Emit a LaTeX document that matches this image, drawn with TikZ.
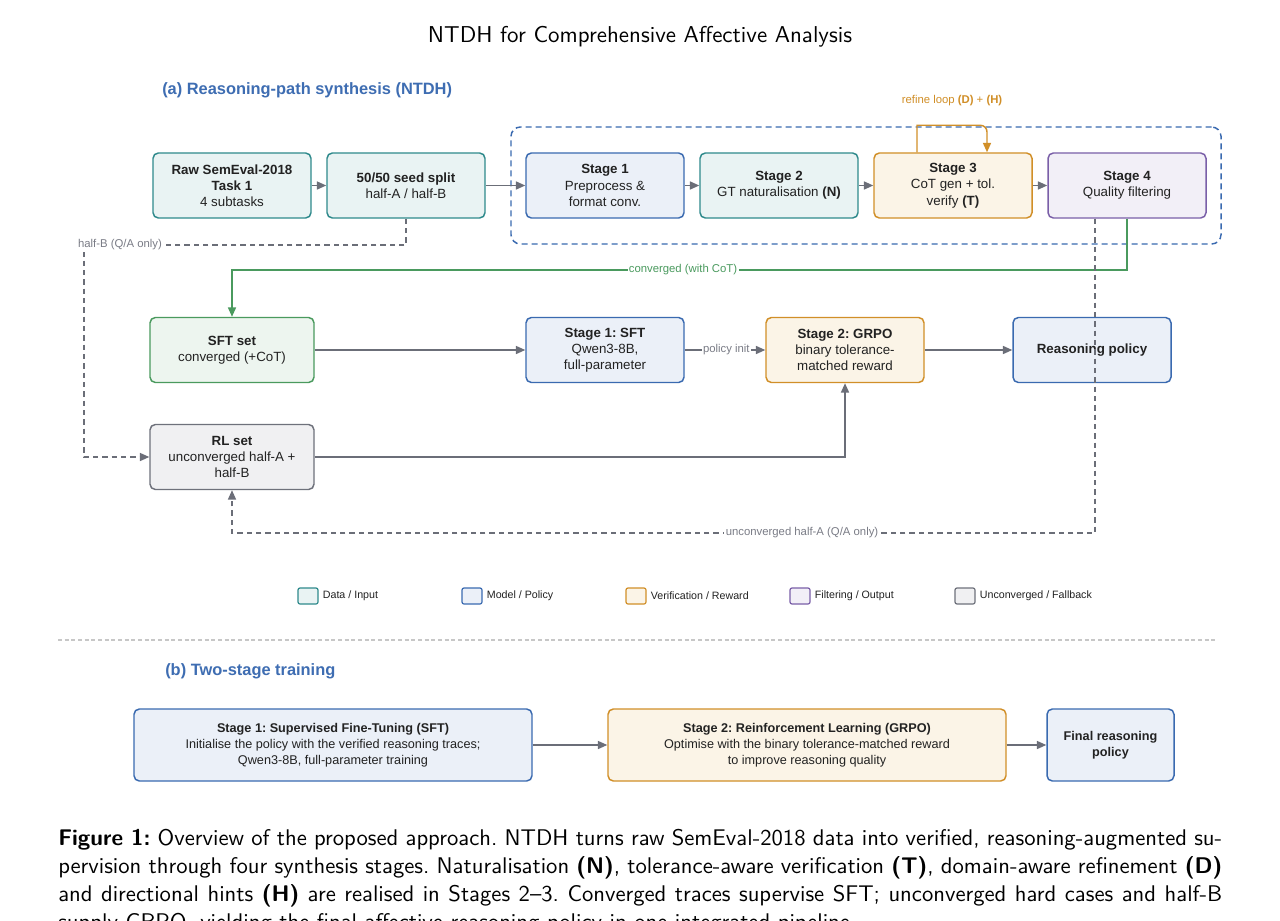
\documentclass[tikz,border=0pt]{standalone}
\usepackage{fontspec}
\setmainfont{Liberation Sans}
\newfontfamily\capfont[BoldFont=lmsans10-bold.otf, Ligatures=TeX]{lmsans10-regular.otf}
\usetikzlibrary{arrows.meta}
\frenchspacing
\definecolor{tealB}{HTML}{2F8A8C}
\definecolor{tealF}{HTML}{E9F3F3}
\definecolor{blueB}{HTML}{3A6AB0}
\definecolor{blueF}{HTML}{EBF0F8}
\definecolor{oranB}{HTML}{D18F28}
\definecolor{oranF}{HTML}{FBF4E7}
\definecolor{purpB}{HTML}{7A5FA8}
\definecolor{purpF}{HTML}{F2EFF7}
\definecolor{grnB}{HTML}{4A9A5E}
\definecolor{grnF}{HTML}{EDF5EF}
\definecolor{grayB}{HTML}{6E717B}
\definecolor{grayF}{HTML}{F0F0F2}
\definecolor{arrG}{HTML}{6B6E78}
\definecolor{lblG}{HTML}{7A7C86}
\definecolor{txt}{HTML}{222222}
\definecolor{secB}{HTML}{3E6DB2}
\begin{document}
\begin{tikzpicture}[x=0.75pt,y=-0.75pt,
  box/.style={draw, rounded corners=4pt, line width=1.1pt, align=center, inner sep=0pt,
    minimum width=118.5pt, minimum height=48.75pt, font=\fontsize{10}{12.2}\selectfont, text=txt},
  wbox/.style={box, minimum width=123pt},
  tealbox/.style={draw=tealB, fill=tealF},
  bluebox/.style={draw=blueB, fill=blueF},
  oranbox/.style={draw=oranB, fill=oranF},
  purpbox/.style={draw=purpB, fill=purpF},
  grnbox/.style={draw=grnB, fill=grnF},
  graybox/.style={draw=grayB, fill=grayF},
  bbox/.style={box, minimum width=298.5pt, minimum height=54pt, font=\fontsize{9.5}{12}\selectfont},
  arr/.style={draw=arrG, line width=1.1pt, -{Triangle[length=7pt,width=6pt]}},
  dsh/.style={arr, dash pattern=on 4pt off 3pt},
  grn/.style={draw=grnB, line width=1.1pt, -{Triangle[length=7pt,width=6pt]}},
  lp/.style={draw=oranB, line width=1.1pt, -{Triangle[length=7pt,width=6pt]}},
  lbl/.style={font=\fontsize{8.5}{10}\selectfont, fill=white, inner sep=1pt, text=lblG},
  lg/.style={draw, rounded corners=1.5pt, line width=0.9pt, minimum width=15pt, minimum height=12pt, inner sep=0pt},
  lgt/.style={font=\fontsize{8}{10}\selectfont, text=txt, inner sep=0pt, anchor=west},
  sec/.style={font=\fontsize{12.3}{14}\selectfont\bfseries, text=secB, anchor=west, inner sep=0pt}
]
\path[use as bounding box, clip] (0,0) rectangle (1280,920);
\fill[white] (0,0) rectangle (1280,920);

% title
\node[font=\capfont\fontsize{17.2}{20}\selectfont, inner sep=0pt] (title) at (640,37) {NTDH for Comprehensive Affective Analysis};

% section (a)
\node[sec] (seca) at (162,90) {(a) Reasoning-path synthesis (NTDH)};

% group
\node[draw=blueB, line width=1.1pt, dash pattern=on 4.5pt off 3pt, rounded corners=7pt,
  minimum width=532.5pt, minimum height=87.75pt, inner sep=0pt] (grp) at (866,185.5) {};

% row 1
\node[box, tealbox] (raw) at (232,185.5) {\textbf{Raw SemEval-2018}\\\textbf{Task 1}\\4 subtasks};
\node[box, tealbox] (seed) at (406,185.5) {\textbf{50/50 seed split}\\half-A / half-B};
\node[box, bluebox] (st1) at (605,185.5) {\textbf{Stage 1}\\Preprocess \&\\format conv.};
\node[box, tealbox] (st2) at (779,185.5) {\textbf{Stage 2}\\GT naturalisation \textbf{(N)}};
\node[box, oranbox] (st3) at (953,185.5) {\textbf{Stage 3}\\CoT gen + tol.\\verify \textbf{(T)}};
\node[box, purpbox] (st4) at (1127,185.5) {\textbf{Stage 4}\\Quality filtering};

% row 2
\node[wbox, grnbox] (sft) at (232,350) {\textbf{SFT set}\\converged (+CoT)};
\node[box, bluebox] (s1sft) at (605,350) {\textbf{Stage 1: SFT}\\Qwen3-8B,\\full-parameter};
\node[box, oranbox] (grpo) at (845,350) {\textbf{Stage 2: GRPO}\\binary tolerance-\\matched reward};
\node[box, bluebox] (pol) at (1092,350) {\textbf{Reasoning policy}};

% row 3
\node[wbox, graybox] (rl) at (232,457) {\textbf{RL set}\\unconverged half-A +\\half-B};

% row 1 arrows
\draw[arr] (raw) -- (seed);
\draw[arr] (seed) -- (st1);
\draw[arr] (st1) -- (st2);
\draw[arr] (st2) -- (st3);
\draw[arr] (st3) -- (st4);

% refine loop
\coordinate (la) at ([xshift=-27pt]st3.north);
\coordinate (lb) at ([xshift=25.5pt]st3.north);
\draw[lp] (la) -- ([yshift=20.25pt]la) [rounded corners=5pt] -- ([yshift=20.25pt]lb) -- (lb);
\node[font=\fontsize{8.5}{10}\selectfont, text=oranB, inner sep=0pt] (rlbl) at (952,101) {refine loop \textbf{(D)} + \textbf{(H)}};

% green converged
\coordinate (gc) at (683,270);
\draw[grn] (st4.south) |- (gc) -| (sft.north);
\node[lbl, text=grnB] (gcl) at (gc) {converged (with CoT)};

% half-B
\coordinate (hbc) at (84,245);
\draw[dsh] (seed.south) |- (hbc) |- (rl.west);
\node[lbl] (hbl) at (120,245) {half-B (Q/A only)};

% row 2 arrows
\draw[arr] (sft) -- (s1sft);
\draw[arr] (s1sft) -- (grpo) node[lbl, midway, xshift=1pt] (pil) {policy init};
\draw[arr] (grpo) -- (pol);
\draw[arr] (rl.east) -| (grpo.south);

% unconverged half-A
\coordinate (uc) at (802,533);
\draw[dsh] ([xshift=-24pt]st4.south) |- (uc) -| (rl.south);
\node[lbl] (ucl) at (uc) {unconverged half-A (Q/A only)};

% legend
\node[lg, tealbox] (lg1) at (308,596) {};
\node[lgt] (lt1) at ([xshift=3pt]lg1.east) {Data / Input};
\node[lg, bluebox] (lg2) at (472,596) {};
\node[lgt] (lt2) at ([xshift=3pt]lg2.east) {Model / Policy};
\node[lg, oranbox] (lg3) at (636,596) {};
\node[lgt] (lt3) at ([xshift=3pt]lg3.east) {Verification / Reward};
\node[lg, purpbox] (lg4) at (800,596) {};
\node[lgt] (lt4) at ([xshift=3pt]lg4.east) {Filtering / Output};
\node[lg, graybox] (lg5) at (965,596) {};
\node[lgt] (lt5) at ([xshift=3pt]lg5.east) {Unconverged / Fallback};

% separator
\draw[draw=black!22, line width=0.9pt, dash pattern=on 3pt off 2pt] (58,640) -- (1215,640);

% section (b)
\node[sec] (secb) at (165,671) {(b) Two-stage training};
\node[bbox, bluebox] (b1) at (333,745) {\textbf{Stage 1: Supervised Fine-Tuning (SFT)}\\Initialise the policy with the verified reasoning traces;\\Qwen3-8B, full-parameter training};
\node[bbox, oranbox] (b2) at (807,745) {\textbf{Stage 2: Reinforcement Learning (GRPO)}\\Optimise with the binary tolerance-matched reward\\to improve reasoning quality};
\node[bbox, bluebox, minimum width=95.25pt] (b3) at (1110.5,745) {\textbf{Final reasoning}\\\textbf{policy}};
\draw[arr] (b1) -- (b2);
\draw[arr] (b2) -- (b3);

% caption
\node[anchor=base west, inner sep=0pt] (cap) at (58,845) {\parbox[t]{873pt}{\capfont\fontsize{17}{21}\selectfont\emergencystretch=2em
\textbf{Figure 1:} Overview of the proposed approach. NTDH turns raw SemEval-2018 data into verified, reasoning-augmented su-\linebreak pervision through four synthesis stages. Naturalisation \textbf{(N)}, tolerance-aware verification \textbf{(T)}, domain-aware refinement \textbf{(D)}\linebreak and directional hints \textbf{(H)} are realised in Stages 2–3. Converged traces supervise SFT; unconverged hard cases and half-B\linebreak supply GRPO, yielding the final affective reasoning policy in one integrated pipeline.}};
\end{tikzpicture}
\end{document}
